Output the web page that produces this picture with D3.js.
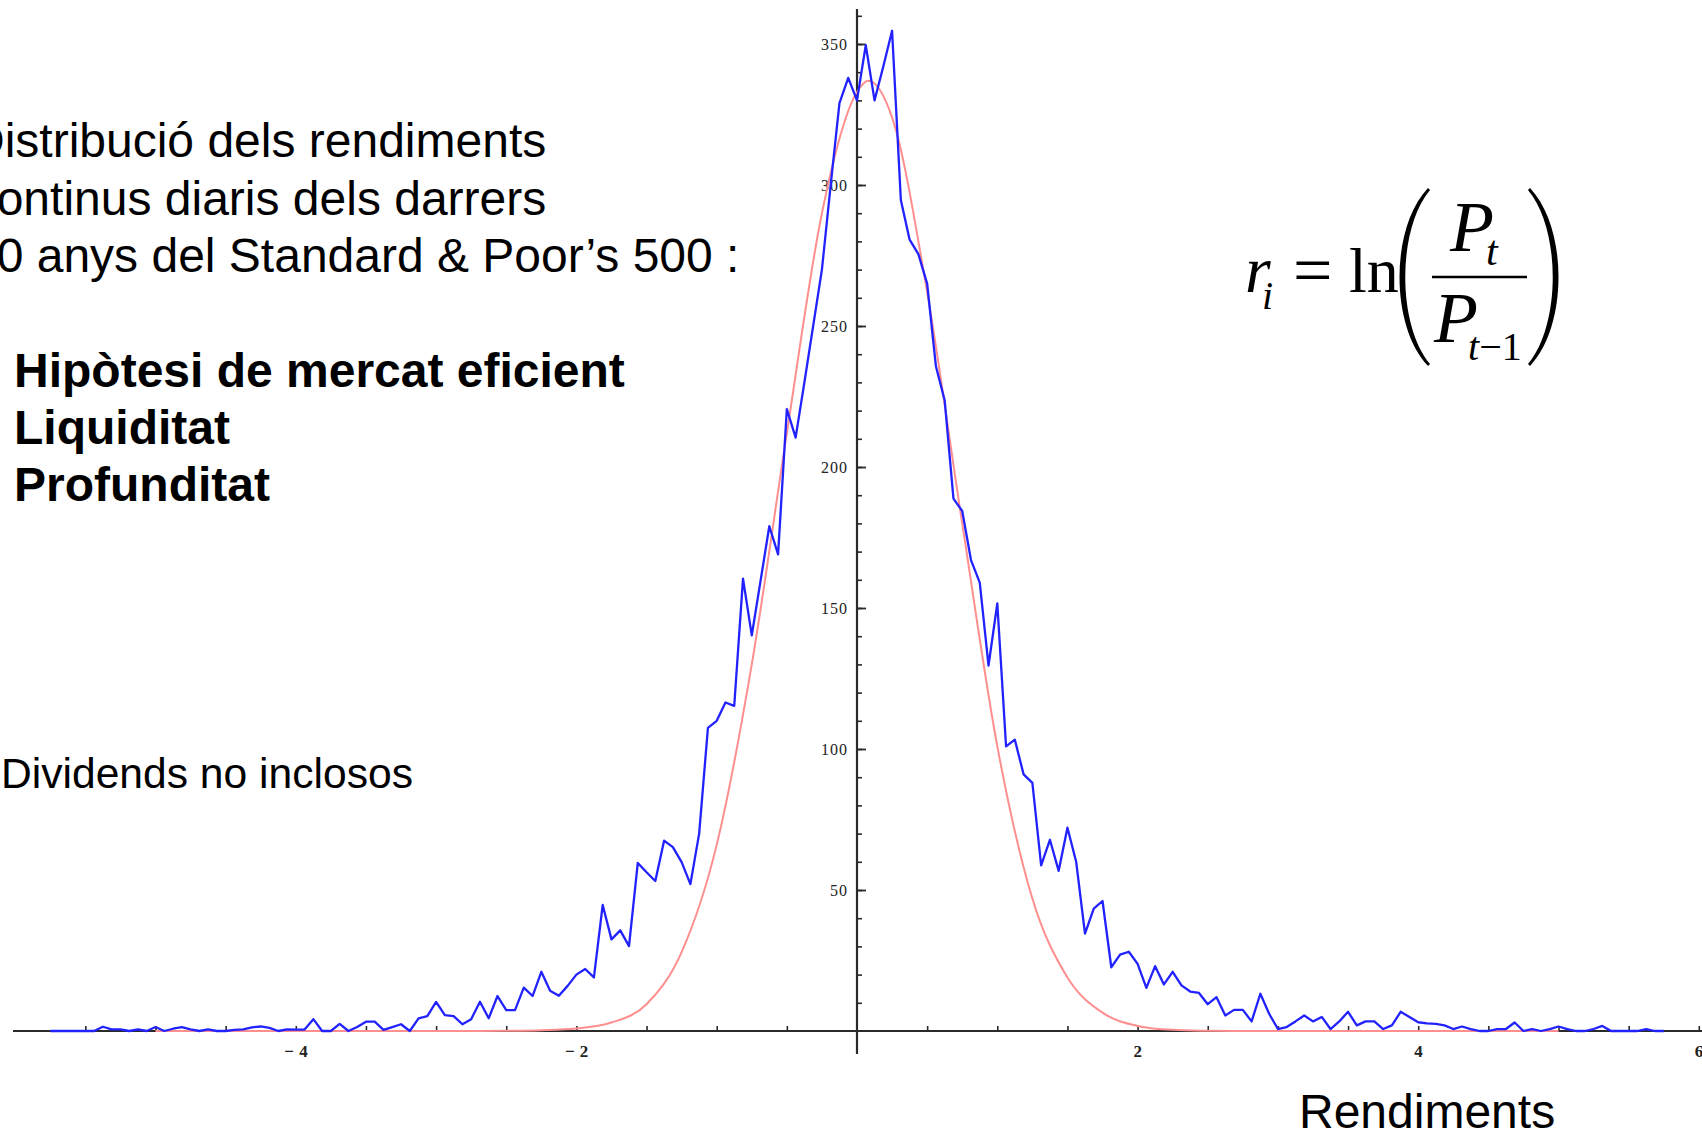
<!DOCTYPE html>
<html>
<head>
  <meta charset="utf-8">
  <title>Distribució dels rendiments S&amp;P 500</title>
  <script src="https://d3js.org/d3.v7.min.js"></script>
  <style>
    body { margin: 0; background: #fff; }
    svg { display: block; }
  </style>
</head>
<body>
  <svg width="1702" height="1132"></svg>
  <script>
// histogram bins of the daily returns (bin centres)
const binStart = -5.75;
const binWidth = 0.0625;
// number of days in each bin
const counts = [
  0, 0, 0, 0, 0, 0, 1.5, 0.6, 0.6, 0, 0.6, 0, 1.4, 0, 0.8, 1.4,
  0.6, 0, 0.6, 0, 0, 0.4, 0.6, 1.3, 1.6, 1.1, 0, 0.6, 0.5, 0.5, 4.2, 0,
  0, 2.5, 0, 1.4, 3.3, 3.3, 0.4, 1.4, 2.4, 0, 4.5, 5.3, 10.3, 5.6, 5.3, 2.4,
  4.2, 10.4, 4.5, 12.4, 7.4, 7.4, 15.4, 12.4, 21, 14.3, 12.5, 16, 20, 22, 19, 44.7,
  32.5, 35.7, 30.1, 59.6, 56.3, 53.2, 67.5, 65.2, 59.9, 52.1, 70, 107.5, 110, 116.5, 115.3, 160.4,
  140.3, 159.6, 179, 169, 220.5, 210.4, 230, 250, 270, 300, 329, 338, 330, 349.6, 330, 342,
  354.7, 294.7, 280.6, 275.5, 265, 235.7, 223.6, 188.8, 184.4, 167, 159, 129.6, 151.6, 100.9, 103.3, 91,
  88, 58.7, 67.8, 56.8, 72.1, 59.9, 34.5, 43.4, 46.1, 22.6, 27.1, 28.1, 23.8, 15.3, 23, 16.5,
  21, 16.2, 14, 13.5, 9.5, 12, 5.5, 7.5, 7.5, 3.4, 13.2, 6.1, 0.7, 1.4, 3.4, 5.5,
  3.4, 5.0, 0.7, 3.4, 6.8, 2.0, 3.4, 3.4, 0.7, 2.0, 6.8, 5.0, 3.1, 2.7, 2.5, 2.0,
  0.7, 1.6, 0.7, 0, 0, 0.7, 0.7, 3.0, 0, 0.7, 0, 0.7, 1.6, 0.7, 0, 0,
  0.7, 1.8, 0, 0, 0, 0, 0.7, 0, 0
];

// fitted normal curve
const normalX = [-5, -2.75, -2.5, -2.25, -2, -1.75, -1.5, -1.25, -1, -0.75, -0.5, -0.25, 0, 0.08, 0.25, 0.5, 0.75, 1, 1.25, 1.5, 1.75, 2, 2.25, 2.5, 2.75, 5];
const normalY = [0, 0, 0.1, 0.3, 0.9, 3, 9.5, 28, 66, 130, 212, 290, 333, 337, 324, 262, 180, 101, 47, 19, 6.5, 1.8, 0.4, 0.1, 0, 0];

// axis ticks
const xLabelTicks = [-4, -2, 2, 4, 6];
const xMinorTicks = d3.range(-11, 13).map(d => d / 2).filter(d => d !== 0);
const yLabelTicks = [50, 100, 150, 200, 250, 300, 350];
const yMinorTicks = d3.range(1, 37).map(d => d * 10);

// texts
const introLines = ["Distribució dels rendiments", "Continus diaris dels darrers", "50 anys del Standard & Poor’s 500 :"];
const boldLines = ["Hipòtesi de mercat eficient", "Liquiditat", "Profunditat"];
const noteText = "Dividends no inclosos";
const xTitle = "Rendiments";

const svg = d3.select('svg');
svg.append('rect').attr('width', 1702).attr('height', 1132).attr('fill', '#fff');

const x = d3.scaleLinear().domain([-6, 6]).range([15.2, 1698.8]);
const y = d3.scaleLinear().domain([0, 350]).range([1031, 44]);

const axisColor = '#2a2a2a';
const tickFont = '"Liberation Serif", "DejaVu Serif", serif';

// x axis
const gx = svg.append('g').attr('transform', `translate(0,${y(0)})`);
gx.call(d3.axisBottom(x).tickValues(xMinorTicks).tickSize(-5).tickFormat(''))
  .call(g => g.select('.domain').remove());
gx.selectAll('.tick line').attr('stroke', axisColor).attr('stroke-width', 1.6);
gx.append('line').attr('x1', 13).attr('x2', 1702).attr('stroke', axisColor).attr('stroke-width', 2.2);

const gxl = svg.append('g').attr('transform', `translate(0,${y(0)})`);
gxl.call(d3.axisBottom(x).tickValues(xLabelTicks).tickSize(0).tickPadding(14)
    .tickFormat(d => d < 0 ? '− ' + Math.abs(d) : String(d)))
  .call(g => g.select('.domain').remove());
gxl.selectAll('text').attr('font-family', tickFont).attr('font-size', 17)
  .attr('font-weight', 'bold').attr('fill', '#222').attr('letter-spacing', 0.5);

// y axis
const gy = svg.append('g').attr('transform', `translate(${x(0)},0)`);
gy.call(d3.axisRight(y).tickValues(yMinorTicks).tickSize(5).tickFormat(''))
  .call(g => g.select('.domain').remove());
gy.selectAll('.tick line').attr('stroke', axisColor).attr('stroke-width', 1.6);
gy.append('line').attr('y1', 9).attr('y2', 1054).attr('stroke', axisColor).attr('stroke-width', 2.2);

const gyl = svg.append('g').attr('transform', `translate(${x(0)},0)`);
gyl.call(d3.axisRight(y).tickValues(yLabelTicks).tickSize(9).tickFormat(d3.format('d')))
  .call(g => g.select('.domain').remove());
gyl.selectAll('.tick line').attr('stroke', axisColor).attr('stroke-width', 1.8);
gyl.selectAll('text').attr('x', -9).attr('text-anchor', 'end')
  .attr('font-family', tickFont).attr('font-size', 16).attr('fill', '#222').attr('letter-spacing', 1);

// normal curve
const normal = normalX.map((v, i) => ({ r: v, n: normalY[i] }));
svg.append('path').datum(normal)
  .attr('fill', 'none').attr('stroke', '#ff8f8f').attr('stroke-width', 2)
  .attr('d', d3.line().x(d => x(d.r)).y(d => y(d.n)).curve(d3.curveMonotoneX));

// histogram polyline
const hist = counts.map((c, i) => ({ r: binStart + i * binWidth, n: c }));
svg.append('path').datum(hist)
  .attr('fill', 'none').attr('stroke', '#2222ff').attr('stroke-width', 2.3)
  .attr('stroke-linejoin', 'round')
  .attr('d', d3.line().x(d => x(d.r)).y(d => y(d.n)));

// texts
const sans = '"Liberation Sans", Arial, Helvetica, sans-serif';
svg.append('g').selectAll('text').data(introLines).join('text')
  .attr('x', (d, i) => i === 1 ? -38 : -30).attr('y', (d, i) => 157 + i * 57.5)
  .attr('font-family', sans).attr('font-size', 48).attr('fill', '#000')
  .text(d => d);
svg.append('g').selectAll('text').data(boldLines).join('text')
  .attr('x', 14).attr('y', (d, i) => 387 + i * 57)
  .attr('font-family', sans).attr('font-size', 48).attr('font-weight', 'bold').attr('fill', '#000')
  .text(d => d);
svg.append('text').attr('x', 1).attr('y', 788)
  .attr('font-family', sans).attr('font-size', 42.6).attr('fill', '#000').text(noteText);
svg.append('text').attr('x', 1299).attr('y', 1128)
  .attr('font-family', sans).attr('font-size', 48).attr('fill', '#000').text(xTitle);

// formula r_i = ln(P_t / P_{t-1})
const serif = '"Liberation Serif", "Times New Roman", serif';
const f = svg.append('g').attr('font-family', serif).attr('fill', '#000');
const put = (tx, ty, size, txt, italic) => f.append('text').attr('x', tx).attr('y', ty)
  .attr('font-size', size).attr('font-style', italic ? 'italic' : 'normal').text(txt);
put(1245, 292, 66, 'r', true);
put(1262, 309, 40, 'i', true);
put(1293, 294, 70, '=', false);
put(1349, 292, 64, 'ln', false);
put(1450, 251, 72, 'P', true);
put(1486, 265, 42, 't', true);
put(1434, 342, 72, 'P', true);
const sub = f.append('text').attr('x', 1468).attr('y', 360).attr('font-size', 40);
sub.append('tspan').attr('font-style', 'italic').text('t');
sub.append('tspan').text('−1');
f.append('line').attr('x1', 1432).attr('x2', 1527).attr('y1', 277).attr('y2', 277)
  .attr('stroke', '#000').attr('stroke-width', 2.6);

// large brackets, the right one mirrored about the fraction centre
function paren(mirror) {
  const X = v => mirror ? 2958 - v : v;
  return `M${X(1428)},188 C${X(1390)},228 ${X(1390)},326 ${X(1428)},366 ` +
    `L${X(1430)},364 C${X(1397)},325 ${X(1397)},229 ${X(1430)},190 Z`;
}
f.append('path').attr('d', paren(false)).attr('fill', '#000');
f.append('path').attr('d', paren(true)).attr('fill', '#000');
  </script>
</body>
</html>
